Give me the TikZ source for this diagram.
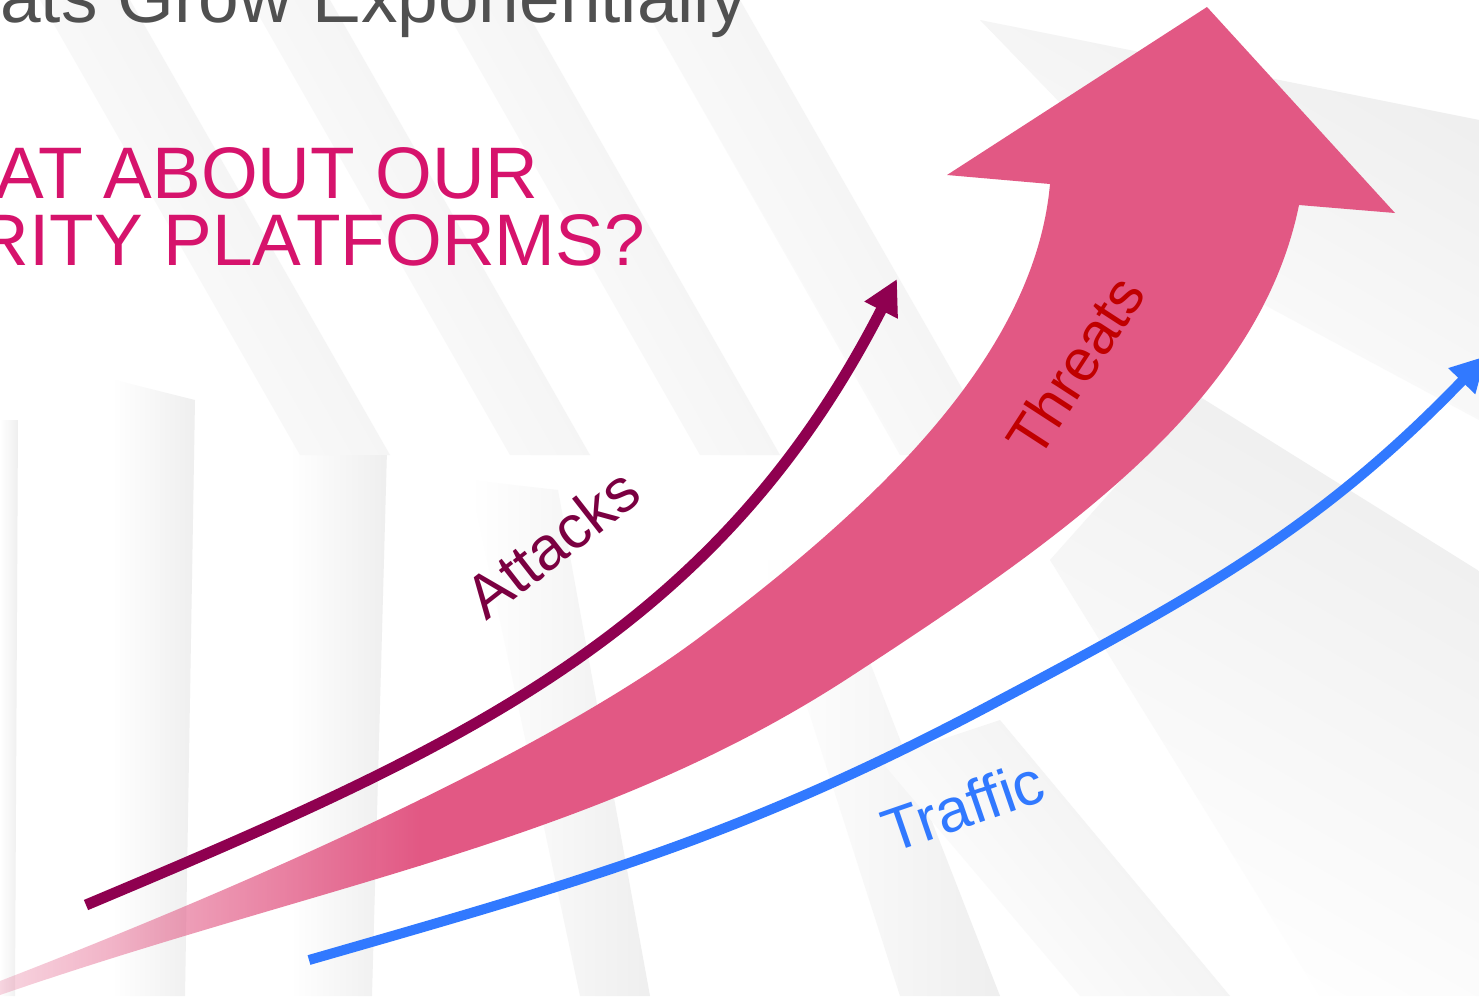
\documentclass[tikz,border=0pt]{standalone}
\usepackage{fontspec}
\setmainfont{Liberation Sans}
\usetikzlibrary{arrows.meta,fadings}
\definecolor{titlegray}{RGB}{80,80,80}
\definecolor{headmagenta}{HTML}{D6136C}
\definecolor{threatpink}{HTML}{E25884}
\definecolor{threatred}{HTML}{C00000}
\definecolor{attackpurple}{HTML}{8F0050}
\definecolor{attacktext}{HTML}{7B0041}
\definecolor{trafficblue}{HTML}{3179FF}
\tikzfading[name=tailfade, left color=transparent!100, right color=transparent!0]
\newcommand{\threatshape}{(0,981) .. controls (233,891) and (540,757) .. (700,637)
  .. controls (860,517) and (1034,363) .. (1050,184) -- (947,175) -- (1207,7)
  -- (1395,213) -- (1299,205) .. controls (1259,401) and (1068,535) .. (850,677)
  .. controls (598,841) and (331,881) .. (0,995) -- cycle}
\begin{document}
\begin{tikzpicture}[x=1pt,y=-1pt,
  band/.style={left color=white, right color=gray!13},
  tag/.style={inner sep=0pt, font=\fontsize{61}{61}\selectfont},
  heading/.style={inner sep=0pt, anchor=base east, font=\fontsize{73}{73}\selectfont},
  trendline/.style={line width=11pt, -{Triangle[length=35pt,width=35pt]}}]
  \useasboundingbox (0,0) rectangle (1479,996);
  % backdrop
  \fill[white] (0,0) rectangle (1479,996);
  \shade[band] (0,420) -- (18,420) -- (15,996) -- (0,996) -- cycle;
  \shade[band] (115,380) -- (195,400) -- (185,996) -- (112,996) -- cycle;
  \shade[band] (290,430) -- (387,450) -- (372,996) -- (295,996) -- cycle;
  \shade[band] (470,480) -- (558,490) -- (650,996) -- (580,996) -- cycle;
  \shade[band] (760,560) -- (830,560) -- (1000,996) -- (900,996) -- cycle;
  \shade[band, shading angle=120] (40,0) -- (130,0) -- (390,455) -- (300,455) -- cycle;
  \shade[band, shading angle=120] (250,0) -- (330,0) -- (590,455) -- (510,455) -- cycle;
  \shade[band, shading angle=120] (440,0) -- (520,0) -- (780,455) -- (700,455) -- cycle;
  \shade[band, shading angle=120] (640,0) -- (740,0) -- (1000,455) -- (900,455) -- cycle;
  \shade[band, shading angle=150] (980,20) -- (1479,120) -- (1479,420) -- (1246,295) -- cycle;
  \shade[band, shading angle=150] (1050,560) -- (1197,395) -- (1479,571) -- (1479,996) -- (1320,996) -- cycle;
  \shade[band, shading angle=130] (880,760) -- (1000,720) -- (1230,996) -- (1080,996) -- cycle;
  % threats arrow
  \begin{scope}
    \clip \threatshape;
    \fill[threatpink] (420,0) rectangle (1479,996);
    \fill[threatpink, path fading=tailfade] (-140,600) rectangle (421,1000);
  \end{scope}
  % attacks and traffic
  \coordinate (attackstart) at (86,905);
  \coordinate (attacktip) at (897,279);
  \coordinate (trafficstart) at (309,960);
  \coordinate (trafficbend) at (1000,700);
  \coordinate (traffictip) at (1486,356);
  \draw[trendline, attackpurple] (attackstart) .. controls (457,749) and (715,635) .. (attacktip);
  \draw[trendline, trafficblue, line width=10pt] (trafficstart) .. controls (587,880) and (745,836) .. (trafficbend)
    .. controls (1206,591) and (1324,524) .. (traffictip);
  % texts
  \node[heading, text=titlegray] (title) at (747,22) {ats Grow Exponentially};
  \node[heading, text=headmagenta] (askone) at (538,198) {AT ABOUT OUR};
  \node[heading, text=headmagenta] (asktwo) at (645,265) {RITY PLATFORMS?};
  \node[tag, text=attacktext, rotate=38] (attacks) at (552,543) {Attacks};
  \node[tag, text=threatred, rotate=57, font=\fontsize{59}{59}\selectfont] (threats) at (1075,366) {Threats};
  \node[tag, text=trafficblue, rotate=19] (traffic) at (963,806) {Traffic};
\end{tikzpicture}
\end{document}
